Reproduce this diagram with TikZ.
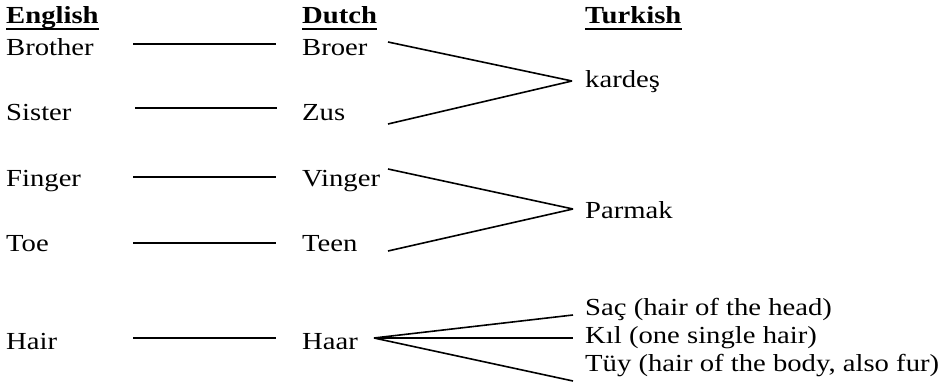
\documentclass[tikz,border=0pt]{standalone}
\usepackage{fontspec}
\setmainfont{Liberation Serif}[FakeStretch=1.17]
\begin{document}
\begin{tikzpicture}[x=1pt,y=-1pt,
  word/.style={anchor=base west,inner sep=0pt,font=\fontsize{24.5}{29}\selectfont},
  head/.style={word,font=\fontsize{24.5}{29}\selectfont\bfseries},
  link/.style={line width=1.6pt,line cap=butt},
  uline/.style={line width=2pt}]
\useasboundingbox (0,0) rectangle (938,387);

% column headings
\node[head] (en) at (6,24) {English};
\node[head] (du) at (302,24) {Dutch};
\node[head] (tr) at (585,24) {Turkish};
\foreach \h in {en,du,tr}
  \draw[uline] ([yshift=-5.5pt]\h.base west) -- ([yshift=-5.5pt]\h.base east);

% English words
\node[word] (brother) at (6,56)  {Brother};
\node[word] (sister)  at (6,121) {Sister};
\node[word] (finger)  at (6,187) {Finger};
\node[word] (toe)     at (6,252) {Toe};
\node[word] (hair)    at (6,350) {Hair};

% Dutch words
\node[word] (broer)  at (302,56)  {Broer};
\node[word] (zus)    at (302,121) {Zus};
\node[word] (vinger) at (302,187) {Vinger};
\node[word] (teen)   at (302,252) {Teen};
\node[word] (haar)   at (302,350) {Haar};

% Turkish words
\node[word] (kardes) at (585,88)  {kardeş};
\node[word] (parmak) at (585,219) {Parmak};
\node[word] (sac)    at (585,316) {Saç (hair of the head)};
\node[word] (kil)    at (585,344) {Kıl (one single hair)};
\node[word] (tuy)    at (585,372) {Tüy (hair of the body, also fur)};

% English -- Dutch
\draw[link] ([xshift=127pt,yshift=12pt]brother.base west) -- ([xshift=-26pt,yshift=12pt]broer.base west);
\draw[link] ([xshift=129pt,yshift=13pt]sister.base west)  -- ([xshift=-25pt,yshift=13pt]zus.base west);
\draw[link] ([xshift=127pt,yshift=10pt]finger.base west)  -- ([xshift=-26pt,yshift=10pt]vinger.base west);
\draw[link] ([xshift=127pt,yshift=9pt]toe.base west)      -- ([xshift=-26pt,yshift=9pt]teen.base west);
\draw[link] ([xshift=127pt,yshift=12pt]hair.base west)    -- ([xshift=-26pt,yshift=12pt]haar.base west);

% Dutch -- Turkish
\coordinate (kmeet) at ([xshift=-13pt,yshift=7pt]kardes.base west);
\coordinate (pmeet) at ([xshift=-12pt,yshift=10pt]parmak.base west);
\coordinate (hsplit) at ([xshift=72pt,yshift=12pt]haar.base west);
\draw[link] ([xshift=86pt,yshift=14pt]broer.base west)  -- (kmeet);
\draw[link] ([xshift=86pt,yshift=-3pt]zus.base west)    -- (kmeet);
\draw[link] ([xshift=86pt,yshift=18pt]vinger.base west) -- (pmeet);
\draw[link] ([xshift=86pt,yshift=1pt]teen.base west)    -- (pmeet);
\draw[link] (hsplit) -- ([xshift=-12pt,yshift=1pt]sac.base west);
\draw[link] (hsplit) -- ([xshift=-12pt,yshift=6pt]kil.base west);
\draw[link] (hsplit) -- ([xshift=-12pt,yshift=-9pt]tuy.base west);
\end{tikzpicture}
\end{document}
